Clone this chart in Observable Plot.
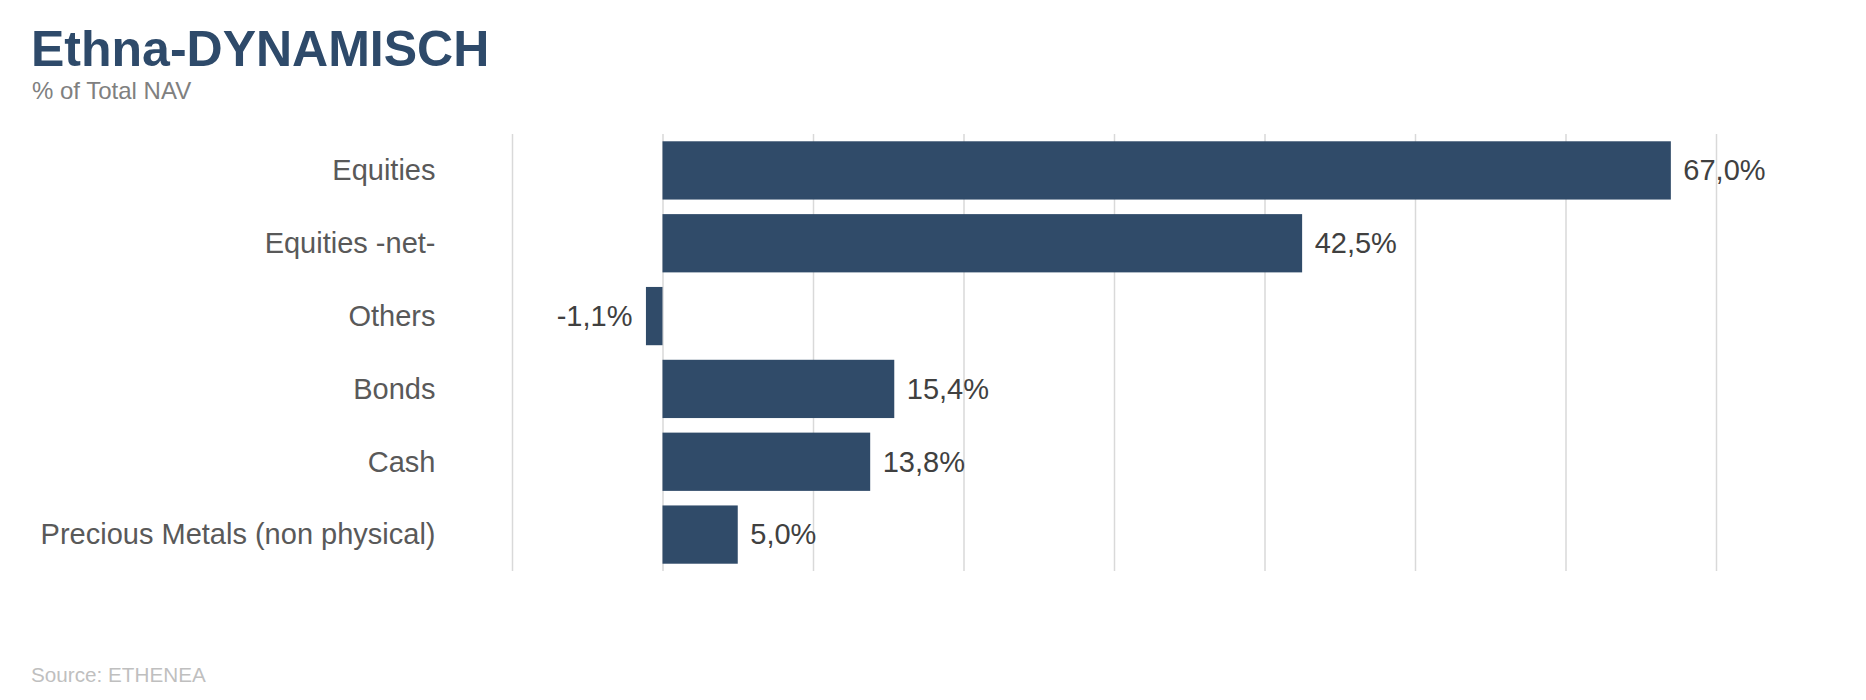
<!DOCTYPE html>
<html>
<head>
<meta charset="utf-8">
<script src="https://cdn.jsdelivr.net/npm/d3@7"></script>
<script src="https://cdn.jsdelivr.net/npm/@observablehq/plot@0.6"></script>
<style>
  html, body { margin: 0; padding: 0; background: #ffffff; }
  body { width: 1866px; height: 700px; overflow: hidden; font-family: "Liberation Sans", Arial, sans-serif; }
  #header { position: relative; height: 110px; }
  #title { position: absolute; left: 31px; top: 24px; font-size: 50px; line-height: 50px; font-weight: bold; color: #2e4a6a; white-space: nowrap; }
  #subtitle { position: absolute; left: 32px; top: 79px; font-size: 24px; line-height: 24px; color: #808080; white-space: nowrap; }
  #chart { height: 520px; }
  #chart svg { display: block; }
  #footer { position: relative; height: 70px; }
  #source { position: absolute; left: 31px; top: 34px; font-size: 20.7px; line-height: 21px; color: #bfbfbf; white-space: nowrap; }
</style>
</head>
<body>
<div id="header">
  <div id="title">Ethna-DYNAMISCH</div>
  <div id="subtitle">% of Total NAV</div>
</div>
<div id="chart"></div>
<div id="footer">
  <div id="source">Source: ETHENEA</div>
</div>
<script>
const categories = ["Equities", "Equities -net-", "Others", "Bonds", "Cash", "Precious Metals (non physical)"];
const values = [67.0, 42.5, -1.1, 15.4, 13.8, 5.0];
const gridTicks = [-10, 0, 10, 20, 30, 40, 50, 60, 70];
const xDomain = [-10, 70];

const data = categories.map((c, i) => ({category: c, value: values[i]}));
const fmt = v => v.toFixed(1).replace(".", ",") + "%";

const chart = Plot.plot({
  width: 1866,
  height: 520,
  marginTop: 24,
  marginBottom: 59,
  marginLeft: 512,
  marginRight: 150,
  style: {fontFamily: "'Liberation Sans', Arial, sans-serif", fontSize: "29px", color: "#595959", background: "#ffffff"},
  x: {domain: xDomain, axis: null},
  y: {domain: categories, paddingInner: 0.2, paddingOuter: 0.1, round: false, label: null, tickSize: 0, tickPadding: 77},
  marks: [
    Plot.gridX(gridTicks, {stroke: "#d9d9d9", strokeOpacity: 1, strokeWidth: 1.5}),
    Plot.barX(data, {x: "value", y: "category", fill: "#304b69"}),
    Plot.text(data.filter(d => d.value >= 0), {x: "value", y: "category", text: d => fmt(d.value), textAnchor: "start", dx: 12, fill: "#404040", fontSize: 29}),
    Plot.text(data.filter(d => d.value < 0), {x: "value", y: "category", text: d => fmt(d.value), textAnchor: "end", dx: -14, fill: "#404040", fontSize: 29})
  ]
});
document.getElementById("chart").appendChild(chart);
</script>
</body>
</html>
